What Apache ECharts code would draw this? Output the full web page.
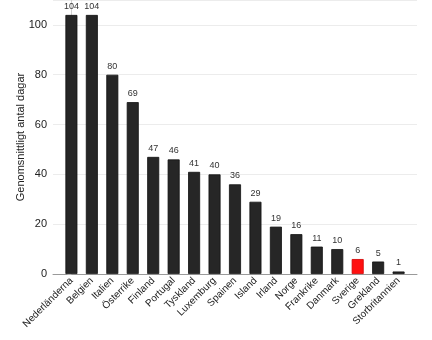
<!DOCTYPE html>
<html>
<head>
<meta charset="utf-8">
<script src="https://cdn.jsdelivr.net/npm/echarts@6/dist/echarts.min.js"></script>
<style>
  html, body { margin: 0; padding: 0; background: #fff; }
  #chart { width: 432px; height: 340px; }
</style>
</head>
<body>
<div id="chart"></div>
<script>
// Average number of days per country
const countries = ['Nederländerna', 'Belgien', 'Italien', 'Österrike', 'Finland', 'Portugal',
  'Tyskland', 'Luxemburg', 'Spainen', 'Island', 'Irland', 'Norge', 'Frankrike', 'Danmark',
  'Sverige', 'Grekland', 'Storbritannien'];
const days = [104, 104, 80, 69, 47, 46, 41, 40, 36, 29, 19, 16, 11, 10, 6, 5, 1];
const highlighted = 'Sverige';

const positions = countries.map((_, i) => i);

const chart = echarts.init(document.getElementById('chart'), null, { renderer: 'canvas' });
chart.setOption({
  animation: false,
  grid: { left: 53, right: 15, top: -1, bottom: 66 },
  xAxis: {
    type: 'value',
    min: -0.9,
    max: countries.length - 1 + 0.9,
    splitLine: { show: false },
    axisLine: { show: true, lineStyle: { color: '#9a9a9a', width: 1 } },
    axisTick: { show: false },
    axisLabel: {
      customValues: positions,
      formatter: v => countries[Math.round(v)],
      rotate: 45,
      margin: 5,
      fontSize: 10,
      fontFamily: 'Liberation Sans, Arial, sans-serif',
      color: '#222'
    }
  },
  yAxis: {
    type: 'value',
    min: 0,
    max: 110,
    interval: 20,
    name: 'Genomsnittligt antal dagar',
    nameLocation: 'middle',
    nameRotate: 90,
    nameGap: 27,
    nameMoveOverlap: false,
    nameTextStyle: { fontSize: 11, color: '#222', fontFamily: 'Liberation Sans, Arial, sans-serif' },
    axisLine: { show: true, lineStyle: { color: '#d0d0d0', width: 1 } },
    axisTick: { show: true, length: 4, lineStyle: { color: '#bbb' } },
    splitLine: { show: true, lineStyle: { color: '#ececec', width: 1 } },
    axisLabel: {
      showMaxLabel: false,
      margin: 6,
      fontSize: 11,
      fontFamily: 'Liberation Sans, Arial, sans-serif',
      color: '#222'
    }
  },
  series: [{
    type: 'bar',
    barWidth: 12,
    data: countries.map((c, i) => ({
      value: [i, days[i]],
      itemStyle: c === highlighted
        ? { color: '#ff1010', borderColor: '#d00000', borderWidth: 0.8 }
        : { color: '#262626', borderColor: '#111', borderWidth: 0.8 }
    })),
    label: {
      show: true,
      position: 'top',
      distance: 4,
      fontSize: 9,
      fontFamily: 'Liberation Sans, Arial, sans-serif',
      color: '#333',
      formatter: p => p.value[1]
    }
  }]
});
</script>
</body>
</html>
